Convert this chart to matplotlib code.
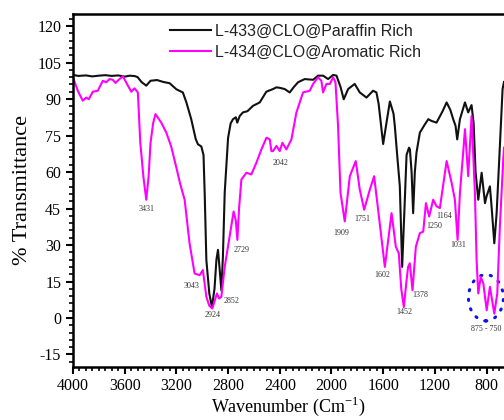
import matplotlib
matplotlib.use('Agg')
import matplotlib.pyplot as plt
from matplotlib.patches import Ellipse
from matplotlib.ticker import MultipleLocator

plt.rcParams['axes.unicode_minus'] = False

# Paraffin rich sample (black)
wn_paraffin = [4000, 3960, 3900, 3850, 3800, 3750, 3700, 3650, 3600, 3560, 3520, 3500,
               3470, 3433, 3400, 3350, 3300, 3252, 3200, 3150, 3123, 3085, 3050, 3033,
               3007, 2990, 2981, 2968, 2945, 2925, 2905, 2890, 2878, 2865, 2852, 2840,
               2826, 2800, 2780, 2762, 2740, 2729, 2710, 2685, 2650, 2607, 2555, 2504,
               2452, 2426, 2400, 2362, 2323, 2290, 2258, 2207, 2142, 2104, 2065, 2026,
               1987, 1961, 1930, 1905, 1871, 1820, 1781, 1729, 1678, 1652, 1635, 1600,
               1575, 1548, 1520, 1510, 1490, 1471, 1453, 1435, 1419, 1400, 1393, 1380,
               1368, 1355, 1342, 1316, 1277, 1251, 1226, 1187, 1140, 1109, 1080, 1058,
               1040, 1027, 1006, 967, 942, 916, 900, 885, 864, 838, 812, 800, 774, 760,
               740, 722, 702, 676, 665]
t_paraffin = [99.9, 99.5, 99.7, 99.3, 99.6, 99.8, 99.5, 99.7, 99.2, 99.6, 99.4, 99.0,
              97.0, 95.5, 97.5, 97.8, 97.0, 96.5, 94.0, 92.7, 88.7, 81.7, 73.5, 71.4,
              70.5, 67.0, 51.4, 23.8, 10.0, 4.5, 12.0, 24.0, 28.0, 20.0, 11.4, 25.0,
              51.5, 74.0, 80.0, 81.7, 82.5, 80.3, 83.0, 84.5, 85.0, 87.2, 88.6, 93.0,
              94.1, 94.8, 94.6, 94.1, 92.7, 95.0, 96.9, 98.2, 97.9, 99.6, 99.6, 98.2,
              99.9, 99.6, 95.0, 89.9, 94.1, 96.2, 92.7, 90.6, 93.4, 92.7, 88.0, 71.5,
              80.0, 89.0, 84.0, 79.0, 66.0, 54.1, 21.0, 45.0, 67.0, 70.0, 69.3, 60.0,
              43.1, 60.0, 68.0, 76.2, 79.6, 81.7, 81.0, 80.3, 85.0, 88.6, 85.5, 81.7,
              79.0, 73.4, 81.7, 88.6, 84.5, 87.5, 80.0, 60.0, 48.6, 59.7, 47.2, 50.0,
              54.1, 45.0, 30.7, 43.1, 65.0, 94.1, 97.0]

# Aromatic rich sample (magenta)
wn_aromatic = [4000, 3963, 3924, 3898, 3878, 3847, 3808, 3769, 3743, 3717, 3692, 3671,
               3640, 3614, 3575, 3549, 3524, 3498, 3479, 3455, 3433, 3415, 3400, 3380,
               3362, 3317, 3278, 3240, 3201, 3170, 3136, 3098, 3059, 3020, 2995, 2968,
               2945, 2922, 2886, 2870, 2852, 2826, 2788, 2757, 2740, 2728, 2715, 2697,
               2658, 2620, 2581, 2542, 2503, 2477, 2465, 2452, 2426, 2400, 2380, 2349,
               2310, 2271, 2220, 2168, 2142, 2104, 2078, 2065, 2039, 2013, 1987, 1969,
               1949, 1930, 1897, 1858, 1812, 1781, 1747, 1703, 1670, 1639, 1587, 1535,
               1502, 1479, 1460, 1440, 1420, 1407, 1394, 1373, 1347, 1316, 1290, 1269,
               1244, 1213, 1187, 1161, 1109, 1070, 1045, 1024, 1006, 981, 967, 942, 916,
               890, 877, 864, 845, 825, 799, 774, 740, 717, 697, 671, 665]
t_aromatic = [98.9, 93.4, 89.3, 90.6, 89.9, 93.0, 93.4, 97.5, 96.9, 98.2, 97.9, 96.6,
              98.2, 99.3, 95.5, 93.0, 94.4, 92.7, 72.0, 58.0, 48.6, 58.0, 72.0, 80.0,
              83.8, 80.3, 76.2, 70.5, 62.0, 55.0, 48.6, 30.7, 18.3, 17.6, 19.7, 8.7,
              5.0, 3.9, 10.1, 8.0, 8.7, 21.0, 33.5, 43.8, 40.0, 32.1, 45.0, 56.9,
              59.7, 59.0, 63.8, 69.3, 74.1, 73.4, 68.6, 68.6, 70.7, 68.6, 72.0, 69.3,
              73.4, 84.5, 92.7, 93.4, 96.2, 98.9, 97.5, 92.7, 96.2, 96.2, 98.9, 96.9,
              79.0, 51.4, 39.7, 58.3, 64.5, 52.8, 44.5, 52.8, 58.3, 44.5, 21.0, 43.1,
              29.3, 26.6, 12.0, 4.5, 15.0, 21.0, 22.5, 11.4, 29.3, 34.9, 35.5, 47.2,
              41.7, 48.6, 45.9, 45.2, 64.5, 55.5, 48.6, 32.1, 51.4, 67.9, 77.6, 58.3, 83.0,
              51.4, 23.8, 10.1, 16.9, 14.2, 3.2, 12.8, 1.8, 10.1, 37.6, 65.0, 70.0]

series_names = ['L-433@CLO@Paraffin Rich', 'L-434@CLO@Aromatic Rich']

# peak labels and where they sit (wavenumber, %T)
peak_labels = ['3431', '3043', '2924', '2852', '2729', '2042', '1909', '1751',
               '1602', '1452', '1378', '1250', '1164', '1031', '875 - 750']
label_x = [3433, 3080, 2922, 2775, 2697, 2393, 1922, 1760,
           1608, 1440, 1316, 1207, 1130, 1019, 805]
label_y = [44.9, 13.2, 1.1, 7.0, 28.0, 63.5, 34.9, 40.7,
           17.6, 2.5, 9.4, 37.9, 42.0, 29.8, -4.4]

serif = 'Liberation Serif'
sans = 'Liberation Sans'

fig = plt.figure(figsize=(5.04, 4.2), dpi=100)
ax = fig.add_axes([0.1448, 0.127, 0.8552, 0.840])

ax.plot(wn_paraffin, t_paraffin, color='#111111', lw=1.5, label=series_names[0])
ax.plot(wn_aromatic, t_aromatic, color='#ff00ff', lw=1.5, label=series_names[1])

for txt, x, y in zip(peak_labels, label_x, label_y):
    ax.text(x, y, txt, fontsize=5.8, family=serif, color='#333333',
            ha='center', va='center')

# dotted ring around the 875-750 region
ring = Ellipse((805, 8.3), 270, 19, fill=False, edgecolor='#1010ee',
               lw=2.2, linestyle=(0, (0.4, 2.8)), capstyle='round')
ax.add_patch(ring)

ax.set_xlim(4000, 665)
ax.set_ylim(-20, 125)
ax.xaxis.set_major_locator(MultipleLocator(400))
ax.xaxis.set_minor_locator(MultipleLocator(50))
ax.yaxis.set_major_locator(MultipleLocator(15))
ax.yaxis.set_minor_locator(MultipleLocator(3))
ax.tick_params(which='major', direction='out', length=5, width=1.5, labelsize=11.5)
ax.tick_params(axis='x', which='major', pad=3.5)
ax.tick_params(which='minor', direction='out', length=3, width=1.2)
for lab in ax.get_xticklabels() + ax.get_yticklabels():
    lab.set_family(serif)

for side in ['left', 'bottom', 'top']:
    ax.spines[side].set_linewidth(1.8)
ax.spines['right'].set_visible(False)

ax.set_xlabel('Wavenumber (Cm$^{\\mathregular{-1}}$)', family=serif, fontsize=13,
              labelpad=0)
ax.set_ylabel('% Transmittance', family=serif, fontsize=16, labelpad=4)

leg = ax.legend(loc='upper left', bbox_to_anchor=(0.21, 0.99), frameon=False,
                prop={'family': sans, 'size': 11.5}, handlelength=2.6,
                handletextpad=0.2, labelspacing=0.38, borderaxespad=0)
for t in leg.get_texts():
    t.set_color('#222222')

fig.savefig('out.png', dpi=100)
